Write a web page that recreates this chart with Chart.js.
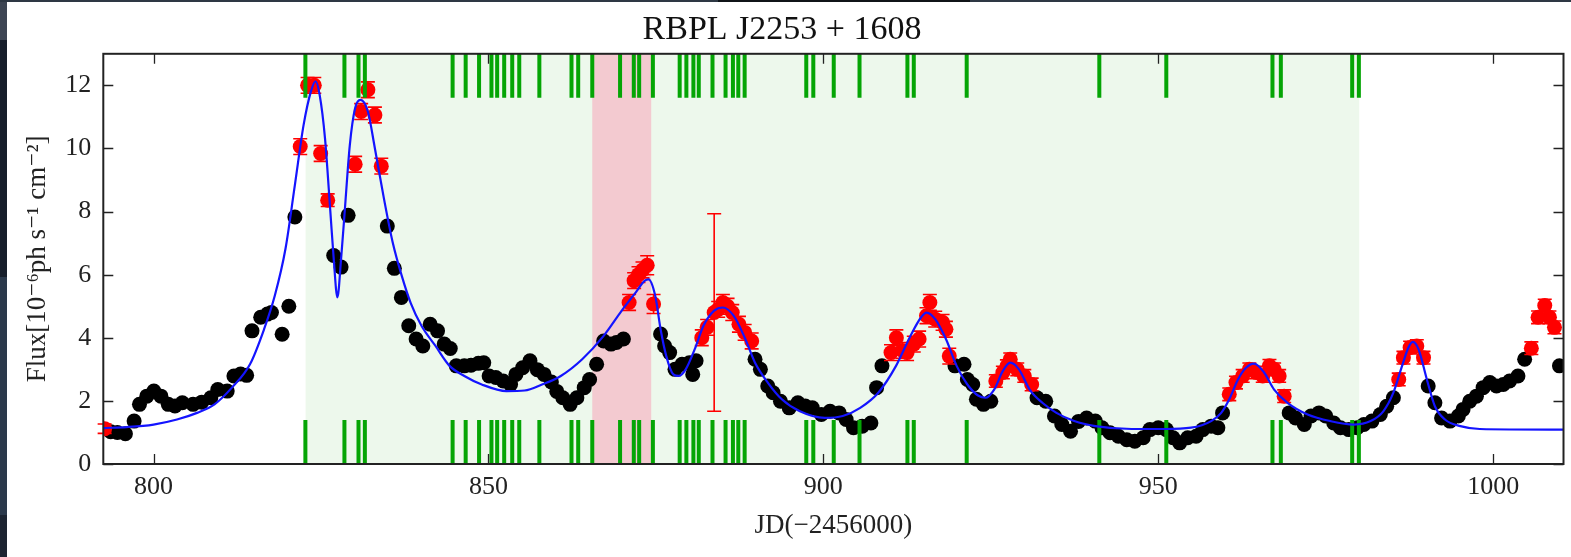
<!DOCTYPE html>
<html>
<head>
<meta charset="utf-8">
<title>RBPL J2253 + 1608</title>
<script src="https://cdn.jsdelivr.net/npm/chart.js@4.4.1/dist/chart.umd.min.js"></script>
<style>
  html, body { margin: 0; padding: 0; background: #fff; }
  #wrap { position: relative; width: 1571px; height: 557px; overflow: hidden; }
  #lightcurve { position: absolute; left: 0; top: 0; }
  .edge-left {
    position: absolute; left: 0; top: 0; width: 7px; height: 557px;
    background: linear-gradient(to bottom, #3d4553 0, #3d4553 40px, #171e2a 40px, #171e2a 277px,
      #2b394b 277px, #2b394b 515px, #1c2431 515px);
  }
  .edge-top { position: absolute; left: 0; top: 0; width: 1571px; height: 2px; background: #2e3844; }
  .edge-top-dark { position: absolute; left: 718px; top: 0; width: 252px; height: 2px; background: #101418; }
</style>
</head>
<body>
<div id="wrap">
  <canvas id="lightcurve" width="1571" height="557"></canvas>
  <div class="edge-left"></div>
  <div class="edge-top"></div>
  <div class="edge-top-dark"></div>
</div>
<script>
// Gamma-ray light curve, JD - 2456000 vs flux (1e-6 ph s^-1 cm^-2)
const blackJD = [
  793.6, 794.6, 795.8, 797.1, 797.9, 799.0, 800.05, 801.1, 802.2, 803.2, 804.3, 805.9, 807.2,
  808.55, 809.6, 811.0, 812.0, 813.0, 813.9, 814.7, 816.0, 817.0, 817.6, 819.2, 820.2, 821.1,
  826.9, 828.0, 829.05, 834.9, 835.95, 837.0, 838.1, 839.2, 840.2, 841.3, 842.4, 843.4, 844.3,
  845.2, 846.4, 847.4, 848.5, 849.3, 850.1, 851.1, 852.2, 853.3, 854.1, 855.1, 856.2, 857.3,
  858.3, 859.4, 860.2, 861.1, 862.2, 863.2, 864.3, 865.1, 866.15, 867.2, 868.3, 869.1, 870.15,
  875.7, 876.3, 877.05, 877.85, 878.9, 880.0, 880.5, 881.0, 889.8, 890.6, 891.7, 892.5, 893.6,
  894.9, 896.2, 897.3, 898.35, 899.7, 901.0, 902.35, 903.4, 904.5, 905.8, 907.1, 907.95, 908.75,
  919.65, 921.0, 921.5, 922.3, 922.85, 923.9, 925.0, 931.9, 933.2, 934.5, 935.6, 936.9, 938.1,
  939.3, 940.6, 941.6, 942.8, 944.05, 945.3, 946.5, 947.75, 948.75, 950.0, 951.2, 952.2, 953.2,
  954.4, 955.65, 956.65, 957.9, 958.9, 959.6, 969.55, 970.5, 971.8, 972.8, 974.0, 975.0, 976.2,
  977.2, 978.45, 979.7, 980.7, 981.9, 983.15, 984.1, 985.1, 990.3, 991.3, 992.3, 993.55, 994.8,
  995.5, 996.5, 997.5, 998.5, 999.5, 1000.5, 1001.5, 1002.45, 1003.7, 1004.7, 1009.9
];
const blackFlux = [
  1.02, 1.0, 0.96, 1.36, 1.89, 2.15, 2.31, 2.15, 1.89, 1.84, 1.94, 1.89, 1.96,
  2.1, 2.36, 2.31, 2.79, 2.85, 2.81, 4.22, 4.65, 4.75, 4.8, 4.11, 5.0, 7.83,
  6.61, 6.24, 7.88, 7.54, 6.2, 5.28, 4.38, 3.96, 3.74, 4.43, 4.22, 3.8, 3.66,
  3.11, 3.11, 3.13, 3.19, 3.21, 2.79, 2.74, 2.63, 2.52, 2.84, 3.05, 3.27, 2.99,
  2.84, 2.6, 2.3, 2.1, 1.89, 2.1, 2.42, 2.68, 3.16, 3.9, 3.8, 3.85, 3.96,
  4.12, 3.74, 3.53, 3.0, 3.16, 3.21, 2.84, 3.27, 3.32, 3.0, 2.47, 2.26, 1.99,
  1.78, 1.94, 1.84, 1.78, 1.57, 1.67, 1.62, 1.41, 1.15, 1.2, 1.3, 2.42, 3.11,
  3.11, 3.16, 2.68, 2.52, 2.05, 1.89, 1.99, 2.1, 1.99, 1.52, 1.25, 1.04, 1.35,
  1.46, 1.36, 1.15, 0.99, 0.88, 0.77, 0.72, 0.83, 1.09, 1.15, 1.09, 0.83, 0.67,
  0.83, 0.88, 1.09, 1.2, 1.15, 1.62, 1.62, 1.46, 1.25, 1.52, 1.62, 1.52, 1.3,
  1.15, 1.09, 1.15, 1.25, 1.36, 1.57, 1.83, 2.1, 2.47, 1.94, 1.46, 1.36, 1.52,
  1.73, 1.99, 2.15, 2.42, 2.58, 2.47, 2.52, 2.63, 2.79, 3.32, 3.11
];

// flaring points, with their 1-sigma errors
const redJD = [
  792.7, 821.9, 823.0, 824.0, 824.95, 826.0, 830.1, 831.0, 832.0, 833.05, 834.0,
  871.0, 871.75, 872.4, 873.0, 873.7, 874.65,
  881.85, 882.65, 883.7, 884.3, 885.0, 885.7, 886.4, 887.4, 888.25, 889.3,
  910.1, 910.9, 911.8, 912.5, 913.5, 914.3, 915.4, 915.9, 916.7, 917.8, 918.3, 918.8,
  925.75, 926.8, 927.4, 927.9, 928.95, 930.0, 931.1,
  960.6, 961.6, 962.6, 963.6, 964.6, 965.6, 966.6, 967.3, 968.05, 968.8,
  985.9, 986.6, 987.6, 988.6, 989.6,
  1005.7, 1006.7, 1007.7, 1008.4, 1009.15
];
const redFlux = [
  1.12, 10.06, 12.0, 12.0, 9.84, 8.36, 9.5, 11.17, 11.86, 11.06, 9.44,
  5.12, 5.81, 6.0, 6.15, 6.3, 5.07,
  4.0, 4.33, 4.8, 4.9, 5.12, 5.0, 4.8, 4.43, 4.17, 3.9,
  3.53, 4.0, 3.6, 3.53, 3.8, 3.96, 4.7, 5.12, 4.59, 4.49, 4.27, 3.42,
  2.63, 2.9, 3.1, 3.32, 3.0, 2.79, 2.52,
  2.21, 2.58, 2.79, 3.0, 2.9, 2.79, 3.11, 3.0, 2.79, 2.15,
  2.68, 3.37, 3.69, 3.74, 3.37,
  3.67, 4.65, 5.02, 4.65, 4.33
];
const redErr = [
  0.15, 0.25, 0.25, 0.25, 0.25, 0.2, 0.25, 0.25, 0.25, 0.25, 0.25,
  0.25, 0.25, 0.25, 0.25, 0.3, 0.3,
  0.25, 0.25, 3.13, 0.25, 0.25, 0.25, 0.25, 0.25, 0.25, 0.25,
  0.25, 0.25, 0.25, 0.25, 0.25, 0.25, 0.25, 0.25, 0.25, 0.25, 0.25, 0.25,
  0.2, 0.2, 0.2, 0.2, 0.2, 0.2, 0.2,
  0.2, 0.2, 0.2, 0.2, 0.2, 0.2, 0.2, 0.2, 0.2, 0.2,
  0.2, 0.2, 0.2, 0.2, 0.2,
  0.2, 0.2, 0.2, 0.2, 0.2
];

// fitted flare model
const modelJD = [
  792.5, 796, 800, 803.5, 806.5, 809.1, 811.7, 814.4, 816.5, 818.1, 819.7, 821.1, 822.4,
  823.5, 824.2, 824.8, 825.6, 826.4, 826.9, 827.45, 828.0, 828.5, 829.3, 830.1, 830.9,
  832.0, 833.05, 834.4, 835.7, 837.05, 838.4, 840.0, 842.1, 844.2, 846.4, 849.0, 852.7,
  855.4, 858.0, 860.8, 864.0, 867.2, 869.9, 872.0, 873.35, 873.9, 874.9, 875.7, 876.55,
  877.6, 878.4, 879.45, 880.8, 882.1, 883.7, 885.0, 886.6, 888.25, 889.8, 891.7, 893.8,
  896.5, 900.2, 902.9, 905.5, 908.2, 910.85, 913.0, 914.6, 915.4, 916.7, 918.3, 919.9,
  921.5, 923.1, 924.2, 925.5, 926.8, 927.9, 929.2, 930.8, 932.7, 934.8, 937.45, 940.6,
  946.0, 951.0, 954.9, 957.9, 959.4, 960.6, 961.9, 963.1, 964.3, 965.8, 967.3, 969.3,
  972.3, 975.7, 979.2, 981.7, 983.6, 985.1, 986.4, 987.35, 988.0, 988.85, 990.1, 991.3,
  992.8, 995.1, 998.0, 1010.5
];
const modelFlux = [
  1.14, 1.17, 1.25, 1.41, 1.62, 1.89, 2.42, 3.16, 4.27, 5.33, 6.82, 8.84, 10.74,
  11.81, 12.13, 11.7, 10.32, 7.99, 6.5, 5.28, 6.5, 7.88, 10.1, 11.28, 11.54,
  11.17, 10.0, 8.41, 7.03, 5.97, 5.1, 4.38, 3.74, 3.11, 2.79, 2.52, 2.31,
  2.33, 2.52, 2.79, 3.32, 4.06, 4.86, 5.44, 5.81, 5.85, 5.33, 4.27, 3.42,
  2.84, 2.79, 3.0, 3.64, 4.38, 4.86, 4.96, 4.7, 4.01, 3.21, 2.58, 2.05,
  1.67, 1.46, 1.52, 1.78, 2.26, 3.11, 4.06, 4.65, 4.8, 4.59, 3.96, 3.11,
  2.52, 2.17, 2.1, 2.36, 2.95, 3.21, 3.0, 2.36, 1.94, 1.62, 1.36, 1.2,
  1.11, 1.11, 1.15, 1.36, 1.62, 2.05, 2.68, 3.05, 3.18, 2.9, 2.36, 1.94,
  1.57, 1.36, 1.25, 1.36, 1.67, 2.26, 3.11, 3.69, 3.87, 3.64, 2.68, 1.83,
  1.41, 1.2, 1.11, 1.09
];

// observation epochs marked along the top and bottom edges
const obsJD = [
  822.67, 828.5, 830.6, 831.55, 844.65, 846.6, 848.6, 850.45, 851.3, 852.35, 853.55, 854.6,
  857.6, 862.4, 863.4, 865.5, 869.65, 871.7, 872.5, 874.55, 878.55, 879.55, 880.6, 881.4,
  883.45, 885.4, 886.5, 887.3, 888.25, 897.45, 898.5, 901.55, 905.4, 912.55, 913.5, 921.4,
  941.2, 951.2, 967.05, 968.3, 978.95, 979.95
];

const analysedSpan = [822.7, 980.0];
const excludedSpan = [865.5, 874.3];

const xRange = [792.5, 1010.5];
const yRange = [0, 13];
const xTickVals = [800, 850, 900, 950, 1000];
const yTickVals = [0, 2, 4, 6, 8, 10, 12];

const RED_INDEX = 1;

const zip = (xs, ys) => xs.map((x, i) => ({ x: x, y: ys[i] }));

const panelPlugin = {
  id: 'panel',
  beforeDatasetsDraw(chart) {
    const { ctx, chartArea: a, scales: { x } } = chart;
    ctx.save();
    ctx.fillStyle = '#edf8ec';
    let x0 = x.getPixelForValue(analysedSpan[0]);
    let x1 = x.getPixelForValue(analysedSpan[1]);
    ctx.fillRect(x0, a.top, x1 - x0, a.bottom - a.top);
    ctx.fillStyle = '#f3cad0';
    x0 = x.getPixelForValue(excludedSpan[0]);
    x1 = x.getPixelForValue(excludedSpan[1]);
    ctx.fillRect(x0, a.top, x1 - x0, a.bottom - a.top);
    ctx.restore();
  },
  beforeDatasetDraw(chart, args) {
    if (args.index !== RED_INDEX) return;
    // error bars under the red markers
    const { ctx, scales: { x, y } } = chart;
    ctx.save();
    ctx.strokeStyle = '#ff0000';
    ctx.lineWidth = 1.6;
    redJD.forEach((jd, i) => {
      const px = x.getPixelForValue(jd);
      const lo = y.getPixelForValue(redFlux[i] - redErr[i]);
      const hi = y.getPixelForValue(redFlux[i] + redErr[i]);
      ctx.beginPath();
      ctx.moveTo(px, lo); ctx.lineTo(px, hi);
      ctx.moveTo(px - 7, lo); ctx.lineTo(px + 7, lo);
      ctx.moveTo(px - 7, hi); ctx.lineTo(px + 7, hi);
      ctx.stroke();
    });
    ctx.restore();
  },
  afterDatasetDraw(chart, args) {
    if (args.index !== RED_INDEX) return;
    const { ctx, chartArea: a, scales: { x } } = chart;
    ctx.save();
    ctx.strokeStyle = '#05a505';
    ctx.lineWidth = 4;
    obsJD.forEach(jd => {
      const px = x.getPixelForValue(jd);
      ctx.beginPath();
      ctx.moveTo(px, a.top); ctx.lineTo(px, a.top + 44);
      ctx.moveTo(px, a.bottom); ctx.lineTo(px, a.bottom - 44);
      ctx.stroke();
    });
    ctx.restore();
  },
  afterDraw(chart) {
    const { ctx, chartArea: a, scales: { x, y } } = chart;
    ctx.save();
    ctx.strokeStyle = '#222';
    ctx.lineWidth = 1.3;
    ctx.beginPath();
    xTickVals.forEach(v => {
      const px = Math.round(x.getPixelForValue(v)) + 0.5;
      ctx.moveTo(px, a.bottom); ctx.lineTo(px, a.bottom - 10);
      ctx.moveTo(px, a.top); ctx.lineTo(px, a.top + 10);
    });
    yTickVals.forEach(v => {
      const py = Math.round(y.getPixelForValue(v)) + 0.5;
      ctx.moveTo(a.left, py); ctx.lineTo(a.left + 10, py);
      ctx.moveTo(a.right, py); ctx.lineTo(a.right - 10, py);
    });
    ctx.stroke();
    ctx.lineWidth = 2;
    ctx.strokeRect(a.left, a.top, a.right - a.left, a.bottom - a.top);
    ctx.restore();
  }
};

Chart.defaults.font.family = "'Liberation Serif', 'DejaVu Serif', serif";
Chart.defaults.color = '#222';

new Chart(document.getElementById('lightcurve'), {
  type: 'scatter',
  data: {
    datasets: [
      {
        label: 'model',
        data: zip(modelJD, modelFlux),
        showLine: true,
        borderColor: '#1414ff',
        borderWidth: 2.2,
        pointRadius: 0,
        cubicInterpolationMode: 'monotone',
        tension: 0.4
      },
      {
        label: 'flare',
        data: zip(redJD, redFlux),
        pointRadius: 7.5,
        pointHoverRadius: 7.5,
        backgroundColor: '#ff0000',
        borderWidth: 0
      },
      {
        label: 'quiescent',
        data: zip(blackJD, blackFlux),
        pointRadius: 7.5,
        pointHoverRadius: 7.5,
        backgroundColor: '#000000',
        borderWidth: 0
      }
    ]
  },
  options: {
    responsive: false,
    animation: false,
    devicePixelRatio: 1,
    layout: { padding: { left: 0, right: 7, top: 0, bottom: 0 } },
    plugins: {
      legend: { display: false },
      tooltip: { enabled: false },
      title: {
        display: true,
        text: 'RBPL J2253 + 1608',
        color: '#111',
        font: { size: 34, weight: 'normal' },
        padding: { top: 10, bottom: 3 }
      }
    },
    scales: {
      x: {
        type: 'linear',
        min: xRange[0],
        max: xRange[1],
        grid: { display: false, drawTicks: false },
        border: { display: false },
        afterBuildTicks: s => { s.ticks = xTickVals.map(v => ({ value: v })); },
        afterFit: s => { s.height = 93; },
        ticks: { font: { size: 26 }, padding: 8, maxRotation: 0, callback: v => String(v) },
        title: {
          display: true,
          text: 'JD(\u22122456000)',
          font: { size: 27 },
          padding: { top: 0, bottom: 15 }
        }
      },
      y: {
        min: yRange[0],
        max: yRange[1],
        grid: { display: false, drawTicks: false },
        border: { display: false },
        afterBuildTicks: s => { s.ticks = yTickVals.map(v => ({ value: v })); },
        afterFit: s => { s.width = 103.3; },
        ticks: { font: { size: 26 }, padding: 12, callback: v => String(v) },
        title: {
          display: true,
          text: 'Flux[10\u207B\u2076ph s\u207B\u00B9 cm\u207B\u00B2]',
          font: { size: 27 },
          padding: { top: 22, bottom: 0 }
        }
      }
    }
  },
  plugins: [panelPlugin]
});
</script>
</body>
</html>
